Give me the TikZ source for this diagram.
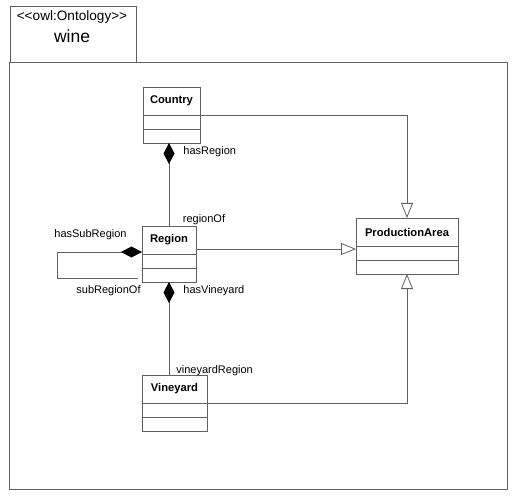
\documentclass[tikz,border=0pt]{standalone}
\usepackage{fontspec}
\setmainfont{Liberation Sans}
\usetikzlibrary{arrows.meta,positioning}
\definecolor{umlgray}{RGB}{96,96,96}

\begin{document}
\begin{tikzpicture}[x=1pt,y=-1pt,line width=0.8pt,
  cls/.style={draw=umlgray,anchor=north west,inner sep=0pt,outer sep=0pt,
    minimum height=28pt,font=\fontsize{11.2}{13}\selectfont\bfseries},
  compart/.style={draw=umlgray,inner sep=0pt,outer sep=0pt,minimum height=14pt},
  lbl/.style={inner sep=0pt,anchor=base west,font=\fontsize{11}{13}\selectfont},
  gen/.style={draw=umlgray,-{Triangle[open,length=15pt,width=12pt]}},
  compo/.style={draw=umlgray,-{Diamond[color=black,length=21pt,width=11pt]}}]
\useasboundingbox (0,0) rectangle (521,502);
% package frame
\node[draw=umlgray,anchor=north west,minimum width=126pt,minimum height=56pt] (pkg) at (9.5,6) {};
\node[font=\fontsize{13.6}{15}\selectfont] (stereo) at (72,17) {{<}{<}owl:Ontology{>}{>}};
\node[font=\fontsize{17.5}{20}\selectfont] (pkgname) at (72,36) {wine};
\draw[umlgray] (9.5,62) rectangle (507.5,489.5);
% classes
\foreach \n/\t/\x/\y/\w in {country/Country/143/87/57, region/Region/142/226/54,
    pa/ProductionArea/356/218/102, vineyard/Vineyard/142/375/65} {
  \node[cls,minimum width=\w pt] (\n) at (\x,\y) {\t};
  \node[compart,minimum width=\w pt,below=0pt of \n] (\n-a) {};
  \node[compart,minimum width=\w pt,below=0pt of \n-a] (\n-o) {};
}
% generalisation
\draw[gen] (country.south east) -| (pa.north);
\coordinate (regout) at ([yshift=-9pt]region.east);
\draw[gen] (regout) -- (regout -| pa.west);
\draw[gen] (vineyard.south east) -| (pa-o.south);
% composition
\draw[compo] (region.north) -- (region.north |- country-o.south);
\draw[compo] (vineyard.north -| region-o.south) -- (region-o.south);
\draw[compo] ([shift={(-4pt,-3pt)}]region-o.west) -- ++(-81,0) |- ([yshift=-12pt]region.west);
% role names
\node[lbl] (hasregion) at (183,154.5) {hasRegion};
\node[lbl] (regionof) at (182.5,223) {regionOf};
\node[lbl] (hassub) at (54,237) {hasSubRegion};
\node[lbl,anchor=base east] (subof) at (141,293) {subRegionOf};
\node[lbl] (hasvin) at (183,293) {hasVineyard};
\node[lbl] (vinreg) at (176,373) {vineyardRegion};
\end{tikzpicture}
\end{document}
